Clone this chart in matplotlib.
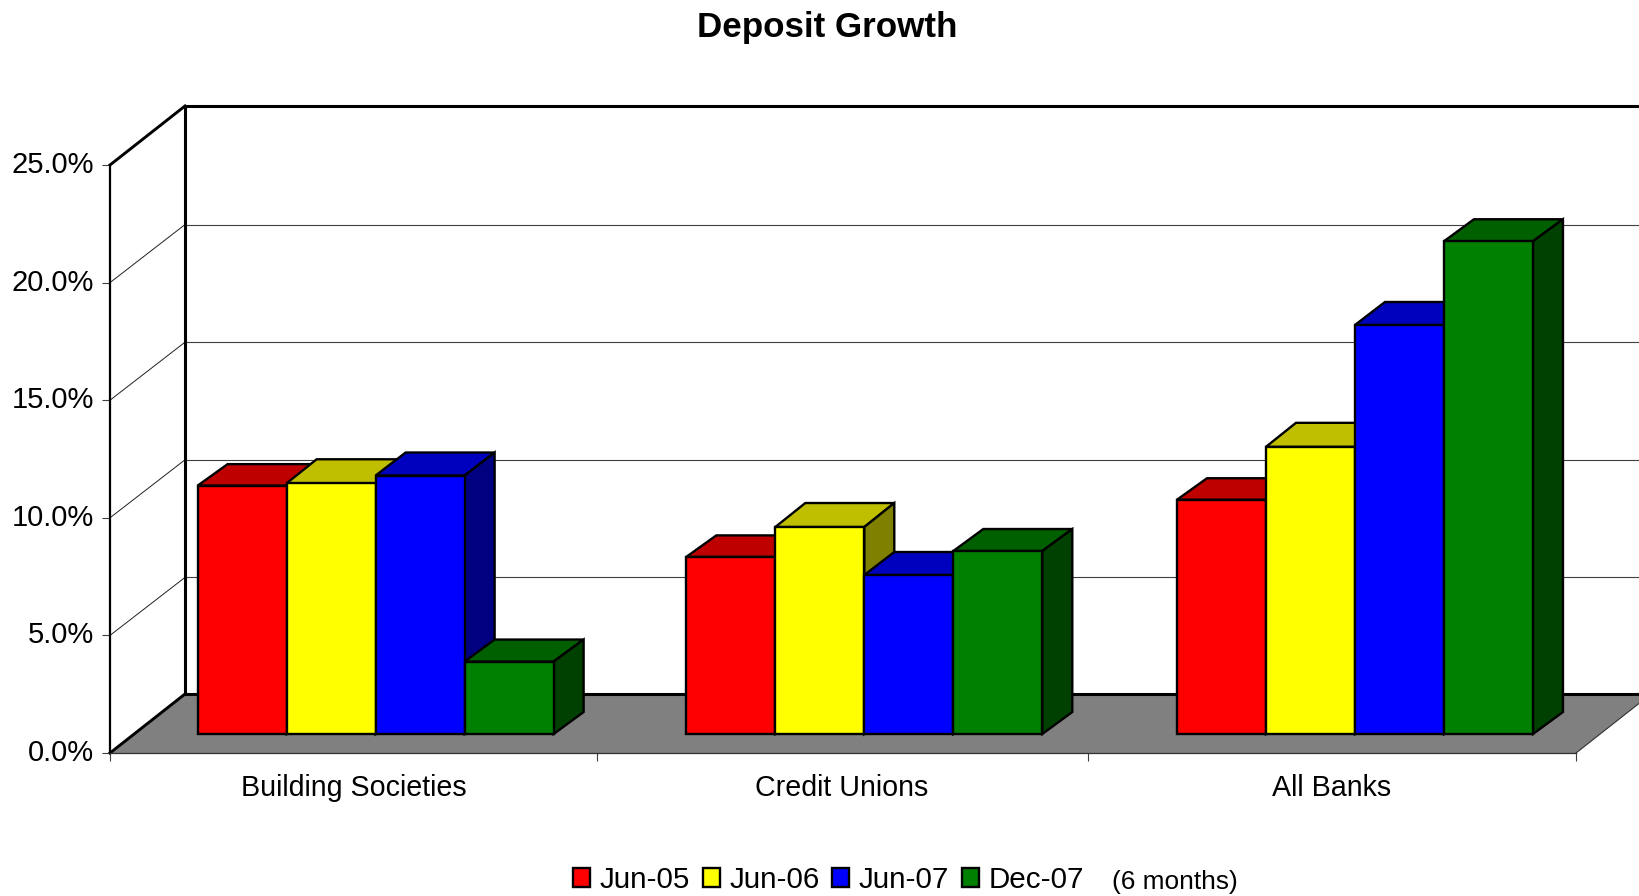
import matplotlib
matplotlib.use('Agg')
import matplotlib.pyplot as plt
from matplotlib.patches import Patch
from matplotlib.transforms import ScaledTranslation

plt.rcParams['font.family'] = ['Liberation Sans', 'DejaVu Sans']

# Values
categories = ['Building Societies', 'Credit Unions', 'All Banks']
periods = ['Jun-05', 'Jun-06', 'Jun-07', 'Dec-07']
jun_05 = [10.56, 7.53, 9.96]
jun_06 = [10.66, 8.8, 12.21]
jun_07 = [10.99, 6.76, 17.39]
dec_07 = [3.08, 7.78, 20.95]
y_ticks = [0, 5, 10, 15, 20, 25]

series = [jun_05, jun_06, jun_07, dec_07]
front_colors = ['#ff0000', '#ffff00', '#0000ff', '#008000']
top_colors = ['#bf0000', '#bfbf00', '#0000bf', '#006000']
side_colors = ['#800000', '#808000', '#000080', '#004000']

fig = plt.figure(figsize=(16.39, 8.96), dpi=100)
ax = fig.add_axes([110 / 1639, (896 - 753) / 896, 1466 / 1639, 588 / 896])
ax.set_xlim(0, 3)
ax.set_ylim(0, 25)
ax.patch.set_visible(False)

# data units per pixel, the fake 3D depth is set in pixels
px_x = 3 / 1466
px_y = 25 / 588
wall_dx, wall_dy = 75 * px_x, 59 * px_y
grid_dy = 58 * px_y
base_dx, base_dy = 23.3 * px_x, 19 * px_y
bar_dx = 30 * px_x
bar_rise = [21.5 * px_y, 24 * px_y, 23 * px_y, 22 * px_y]
bar_w = 89 * px_x
group_nudge = [-2 * px_x, -2 * px_x, 0]


def poly(xs, ys, color, z, edge='black', lw=1.7):
    ax.fill(xs, ys, facecolor=color, edgecolor=edge, linewidth=lw,
            joinstyle='miter', clip_on=False, zorder=z)


def line(xs, ys, lw, z, color='black'):
    ax.plot(xs, ys, color=color, linewidth=lw, clip_on=False, zorder=z,
            solid_capstyle='projecting')


# floor
poly([0, 3, 3 + wall_dx, wall_dx], [0, 0, wall_dy, wall_dy], '#808080', 1, edge='none')
line([3, 3 + wall_dx], [0, wall_dy], 0.8, 1.1, '#303030')
line([0, wall_dx], [0, wall_dy], 2.1, 1.2)
line([wall_dx, 3 + wall_dx], [wall_dy, wall_dy], 2.2, 1.2)

# back wall and gridlines
for t in y_ticks[1:-1]:
    line([0, wall_dx], [t, t + grid_dy], 0.7, 1.3, '#202020')
    line([wall_dx, 3 + wall_dx], [t + grid_dy, t + grid_dy], 0.8, 1.3, '#404040')
line([wall_dx, wall_dx], [wall_dy, 25 + wall_dy], 2.2, 1.5)
line([wall_dx, 3 + wall_dx], [25 + wall_dy, 25 + wall_dy], 2.2, 1.5)
line([0, wall_dx], [25, 25 + wall_dy], 2.1, 1.5)

# bars, left to right so that each one hides the depth of its neighbour
z = 2
for c in range(len(categories)):
    left = c + 0.5 - 2 * bar_w + base_dx + group_nudge[c]
    for s, values in enumerate(series):
        v = values[c]
        x0 = left + s * bar_w
        x1 = x0 + bar_w
        y0 = base_dy
        y1 = base_dy + v
        rise = bar_rise[s]
        ax.bar(x0, v, width=bar_w, bottom=y0, align='edge', color=front_colors[s],
               edgecolor='black', linewidth=1.7, clip_on=False, zorder=z + 0.2)
        poly([x0, x1, x1 + bar_dx, x0 + bar_dx], [y1, y1, y1 + rise, y1 + rise],
             top_colors[s], z)
        poly([x1, x1 + bar_dx, x1 + bar_dx, x1], [y0, y0 + rise, y1 + rise, y1],
             side_colors[s], z + 0.1)
        z += 1

# axes
for name in ['top', 'right']:
    ax.spines[name].set_visible(False)
ax.spines['left'].set_linewidth(1.6)
ax.spines['left'].set_zorder(1.6)
ax.spines['bottom'].set_linewidth(0.9)
ax.spines['bottom'].set_color('#303030')
ax.spines['bottom'].set_zorder(1.6)

ax.set_yticks(y_ticks)
ax.set_yticklabels([f'{t:.1f}%' for t in y_ticks], fontsize=21)
ax.tick_params(axis='y', length=5.8, width=0.8, color='#404040', pad=5.5)
nudge_up = ScaledTranslation(0, 3 / 100, fig.dpi_scale_trans)
for lab in ax.get_yticklabels():
    lab.set_transform(lab.get_transform() + nudge_up)
ax.set_xticks([0, 0.9965, 2.0013, 3])
ax.set_xticklabels([])
ax.tick_params(axis='x', length=5.8, width=0.8, color='#404040')
ax.set_xticks([0.498, 1.498, 2.5], minor=True)
ax.set_xticklabels(categories, minor=True, fontsize=20.6)
ax.tick_params(axis='x', which='minor', length=0, pad=14.8)

fig.text(827 / 1639, 1 - 28 / 896, 'Deposit Growth', fontsize=25.2, fontweight='bold',
         ha='center', va='center')

handles = [Patch(facecolor=front_colors[i], edgecolor='black', linewidth=1.7, label=periods[i])
           for i in range(len(periods))]
fig.legend(handles=handles, loc='center left', bbox_to_anchor=(573 / 1639, 1 - 880 / 896),
           ncol=4, frameon=False, fontsize=21.3, handlelength=0.58, handleheight=0.58,
           handletextpad=0.32, columnspacing=0.43, borderpad=0, borderaxespad=0)
fig.text(1112 / 1639, 1 - 882 / 896, '(6 months)', fontsize=18.9, ha='left', va='center')

fig.savefig('out.png', dpi=100)
